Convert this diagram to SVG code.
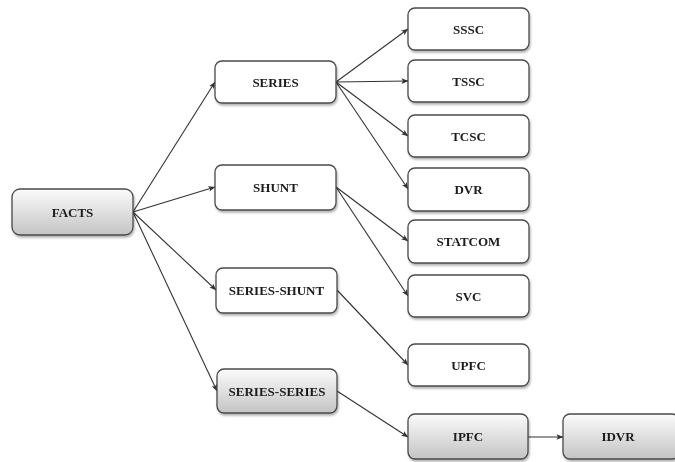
<svg xmlns="http://www.w3.org/2000/svg" width="675" height="462" viewBox="0 0 675 462">
<style>
.box{fill:#fff;stroke:#4a4a4a;stroke-width:1.3}
.grad{fill:url(#g);stroke:#4a4a4a;stroke-width:1.3}
.lbl{font-family:"Liberation Serif","Times New Roman",serif;font-weight:bold;font-size:13px;fill:#1a1a1a;text-anchor:middle;dominant-baseline:central}
.edge{stroke:#333;stroke-width:1.1;fill:none;marker-end:url(#arr)}
</style>
<defs>
<linearGradient id="g" x1="0" y1="0" x2="0" y2="1">
<stop offset="0" stop-color="#fbfbfb"/>
<stop offset="1" stop-color="#c4c4c4"/>
</linearGradient>
<filter id="sh" x="-10%" y="-10%" width="130%" height="140%">
<feDropShadow dx="1" dy="2" stdDeviation="1.2" flood-color="#000" flood-opacity="0.3"/>
</filter>
<marker id="arr" viewBox="0 0 10 10" refX="9.5" refY="5" markerWidth="7" markerHeight="7" orient="auto" markerUnits="userSpaceOnUse">
<path d="M0,1 L10,5 L0,9 L2.5,5 Z" fill="#333"/>
</marker>
</defs>
<rect width="675" height="462" fill="#fff"/>
<g id="connectors">
<line class="edge" x1="133" y1="212" x2="215" y2="82"/>
<line class="edge" x1="133" y1="212" x2="215" y2="187"/>
<line class="edge" x1="133" y1="212" x2="216" y2="290"/>
<line class="edge" x1="133" y1="212" x2="217" y2="391"/>
<line class="edge" x1="336" y1="82" x2="408" y2="29"/>
<line class="edge" x1="336" y1="82" x2="408" y2="81"/>
<line class="edge" x1="336" y1="82" x2="408" y2="136"/>
<line class="edge" x1="336" y1="82" x2="408" y2="189"/>
<line class="edge" x1="336" y1="187" x2="408" y2="241"/>
<line class="edge" x1="336" y1="187" x2="408" y2="296"/>
<line class="edge" x1="337" y1="290" x2="408" y2="365"/>
<line class="edge" x1="337" y1="391" x2="408" y2="437"/>
<line class="edge" x1="528" y1="437" x2="563" y2="437"/>
</g>
<g id="n-facts" filter="url(#sh)"><rect class="grad" x="12" y="189" width="121" height="46" rx="8"/><text class="lbl" x="72.5" y="212">FACTS</text></g>
<g id="n-series" filter="url(#sh)"><rect class="box" x="215" y="61" width="121" height="42" rx="7"/><text class="lbl" x="275.5" y="82">SERIES</text></g>
<g id="n-shunt" filter="url(#sh)"><rect class="box" x="215" y="165" width="121" height="45" rx="7"/><text class="lbl" x="275.5" y="187">SHUNT</text></g>
<g id="n-series-shunt" filter="url(#sh)"><rect class="box" x="216" y="268" width="121" height="45" rx="7"/><text class="lbl" x="276.5" y="290">SERIES-SHUNT</text></g>
<g id="n-series-series" filter="url(#sh)"><rect class="grad" x="217" y="369" width="120" height="44" rx="7"/><text class="lbl" x="277" y="391">SERIES-SERIES</text></g>
<g id="n-sssc" filter="url(#sh)"><rect class="box" x="408" y="8" width="121" height="42" rx="7"/><text class="lbl" x="468.5" y="29">SSSC</text></g>
<g id="n-tssc" filter="url(#sh)"><rect class="box" x="408" y="60" width="121" height="42" rx="7"/><text class="lbl" x="468.5" y="81">TSSC</text></g>
<g id="n-tcsc" filter="url(#sh)"><rect class="box" x="408" y="115" width="121" height="42" rx="7"/><text class="lbl" x="468.5" y="136">TCSC</text></g>
<g id="n-dvr" filter="url(#sh)"><rect class="box" x="408" y="168" width="121" height="43" rx="7"/><text class="lbl" x="468.5" y="189.5">DVR</text></g>
<g id="n-statcom" filter="url(#sh)"><rect class="box" x="408" y="220" width="121" height="43" rx="7"/><text class="lbl" x="468.5" y="241.5">STATCOM</text></g>
<g id="n-svc" filter="url(#sh)"><rect class="box" x="408" y="275" width="121" height="42" rx="7"/><text class="lbl" x="468.5" y="296">SVC</text></g>
<g id="n-upfc" filter="url(#sh)"><rect class="box" x="408" y="344" width="121" height="42" rx="7"/><text class="lbl" x="468.5" y="365">UPFC</text></g>
<g id="n-ipfc" filter="url(#sh)"><rect class="grad" x="408" y="414" width="120" height="45" rx="7"/><text class="lbl" x="468" y="436.5">IPFC</text></g>
<g id="n-idvr" filter="url(#sh)"><rect class="grad" x="563" y="414" width="116" height="45" rx="7"/><text class="lbl" x="618" y="436.5">IDVR</text></g>
</svg>
